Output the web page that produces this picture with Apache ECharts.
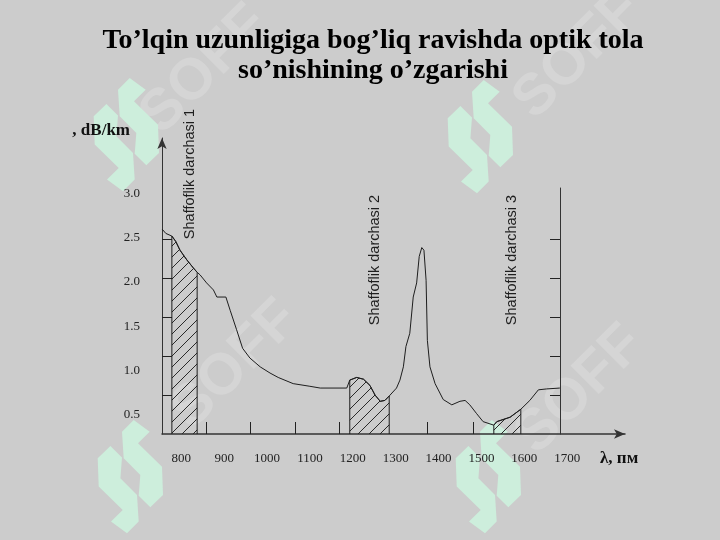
<!DOCTYPE html>
<html><head><meta charset="utf-8">
<script src="https://cdn.jsdelivr.net/npm/echarts@6/dist/echarts.min.js"></script>
<style>html,body{margin:0;padding:0;background:#cccccc}#c{width:720px;height:540px}</style>
</head><body><div id="c"></div>
<script>
// ---- data ----
const wavelength = [755,764,778,787,797,813,828,837,844,859,875,883,904,914,929,943,960,984,1007,1026,1061,1100,1124,1186,1193,1209,1225,1240,1252,1264,1275,1285,1302,1310,1318,1324,1333,1341,1349,1355,1361,1366,1371,1374,1380,1392,1411,1431,1450,1462,1473,1489,1504,1529,1536,1567,1592,1613,1633,1652,1683];
const attenuation = [2.60,2.55,2.52,2.46,2.36,2.25,2.16,2.11,2.08,1.99,1.91,1.83,1.83,1.68,1.46,1.25,1.14,1.04,0.97,0.92,0.85,0.82,0.80,0.80,0.89,0.92,0.90,0.83,0.72,0.65,0.66,0.71,0.80,0.89,1.04,1.27,1.42,1.83,1.99,2.29,2.39,2.36,2.02,1.34,1.04,0.85,0.67,0.61,0.65,0.66,0.61,0.51,0.42,0.38,0.42,0.47,0.56,0.66,0.78,0.79,0.80];
const xTickLabels = [800,900,1000,1100,1200,1300,1400,1500,1600,1700];
const yTickLabels = [0.5,1.0,1.5,2.0,2.5,3.0];
const xTickMarks = [858,960,1065,1168,1373,1480];
const scaleTicks = [0.5,1.0,1.5,2.0,2.5];
const windows = [[778,837],[1193,1285],[1529,1592]];
const windowNames = ['Shaffoflik darchasi 1','Shaffoflik darchasi 2','Shaffoflik darchasi 3'];
const titleText = 'To’lqin uzunligiga bog’liq ravishda optik tola\nso’nishining o’zgarishi';
const yName = ', dB/km';
const xName = 'λ, пм';

// ---- helpers ----
const Y_MIN = 0.28, Y_MAX = 3.63, X_MIN = 755, X_MAX = 1835;
const curve = wavelength.map((w, i) => [w, attenuation[i]]);
function windowData(w) {
  const pts = curve.filter(p => p[0] >= w[0] && p[0] <= w[1]);
  return [[w[0], Y_MIN]].concat(pts, [[w[1], Y_MIN]]);
}
function hatch() {
  const s = 11, c = document.createElement('canvas');
  c.width = c.height = s;
  const g = c.getContext('2d');
  g.strokeStyle = '#2a2a2a'; g.lineWidth = 1;
  g.beginPath();
  g.moveTo(0, s); g.lineTo(s, 0);
  g.moveTo(-s/2, s/2); g.lineTo(s/2, -s/2);
  g.moveTo(s/2, s*1.5); g.lineTo(s*1.5, s/2);
  g.stroke();
  return c;
}
const pattern = { image: hatch(), repeat: 'repeat' };

// watermark
const piece1 = [[36.7,0],[52.7,11.7],[41,23.3],[65,46.7],[66,75],[53.3,87.3],[41.7,75.7],[43.3,55],[26.7,38.3],[25,11.7]];
const piece2 = piece1.map(p => [66.7 - p[0], 113.3 - p[1]]);
function logo(x, y) {
  return { type: 'group', x: x, y: y, z: -10, silent: true, children: [
    { type: 'polygon', z: -10, shape: { points: piece1 }, style: { fill: '#cdeedc' } },
    { type: 'polygon', z: -10, shape: { points: piece2 }, style: { fill: '#cdeedc' } }
  ]};
}
function soff(x, y) {
  return { type: 'text', x: x, y: y, z: -11, silent: true, rotation: Math.PI / 4,
    style: { text: 'SOFF', font: 'bold 58px "Liberation Sans"', fill: '#d5d5d5', align: 'center', verticalAlign: 'middle' } };
}
const FONT_SANS = '"Liberation Sans", Arial, sans-serif';
const FONT_SERIF = '"Liberation Serif", "Times New Roman", serif';

const chart = echarts.init(document.getElementById('c'), null, { renderer: 'canvas' });
const series = [{
  type: 'line', name: 'attenuation', xAxisIndex: 0, yAxisIndex: 0,
  data: curve, symbol: 'none', smooth: false, z: 5,
  lineStyle: { color: '#1e1e1e', width: 1 }
}];
windows.forEach((w, i) => {
  series.push({
    type: 'line', name: windowNames[i], xAxisIndex: 0, yAxisIndex: 0,
    data: windowData(w), symbol: 'none', z: 4,
    lineStyle: { color: '#1e1e1e', width: 1 },
    areaStyle: { color: pattern, opacity: 1, origin: 'start' }
  });
});

const graphics = [
  logo(93, 78), logo(447, 80), logo(97, 420), logo(455, 420),
  soff(205, 70), soff(578, 55), soff(235, 365), soff(580, 390),
  { type: 'text', x: 190, y: 174, rotation: Math.PI / 2,
    style: { text: windowNames[0], font: '14.5px ' + FONT_SANS, fill: '#1e1e1e', align: 'center', verticalAlign: 'middle' } },
  { type: 'text', x: 375, y: 260, rotation: Math.PI / 2,
    style: { text: windowNames[1], font: '14.5px ' + FONT_SANS, fill: '#1e1e1e', align: 'center', verticalAlign: 'middle' } },
  { type: 'text', x: 512, y: 260, rotation: Math.PI / 2,
    style: { text: windowNames[2], font: '14.5px ' + FONT_SANS, fill: '#1e1e1e', align: 'center', verticalAlign: 'middle' } },
  { type: 'text', x: 130, y: 131,
    style: { text: yName, font: 'bold 17px ' + FONT_SERIF, fill: '#111', align: 'right', verticalAlign: 'middle' } },
  { type: 'text', x: 600, y: 459,
    style: { text: xName, font: 'bold 17px ' + FONT_SERIF, fill: '#111', align: 'left', verticalAlign: 'middle' } }
];

chart.setOption({
  animation: false,
  backgroundColor: '#cccccc',
  title: {
    text: titleText, left: 368, top: 21, textAlign: 'center',
    textStyle: { fontFamily: FONT_SERIF, fontWeight: 'bold', fontSize: 28, lineHeight: 30, color: '#000' }
  },
  grid: [
    { left: 162, right: 95, top: 138, bottom: 106 },
    { left: 162, right: 160, top: 188, bottom: 106 }
  ],
  xAxis: [
    { gridIndex: 0, type: 'value', min: X_MIN, max: X_MAX,
      axisLine: { show: true, symbol: ['none', 'arrow'], symbolSize: [7, 11], lineStyle: { color: '#333', width: 1.5 } },
      axisTick: { show: true, inside: true, length: 12, customValues: xTickMarks, lineStyle: { color: '#222' } },
      axisLabel: { customValues: xTickLabels, formatter: v => String(v), margin: 18, fontFamily: FONT_SERIF, fontSize: 13, color: '#222' },
      splitLine: { show: false } },
    { gridIndex: 1, type: 'value', min: X_MIN, max: 1683, show: false }
  ],
  yAxis: [
    { gridIndex: 0, type: 'value', min: Y_MIN, max: Y_MAX,
      axisLine: { show: false }, axisTick: { show: false }, splitLine: { show: false },
      axisLabel: { customValues: yTickLabels, formatter: v => v.toFixed(1), margin: 22, fontFamily: FONT_SERIF, fontSize: 13, color: '#222' } },
    { gridIndex: 0, type: 'value', min: 0, max: 3.8, position: 'left',
      axisLine: { show: true, symbol: ['none', 'arrow'], symbolSize: [7, 11], lineStyle: { color: '#333', width: 1 } },
      axisTick: { show: true, inside: true, length: 10, customValues: scaleTicks, lineStyle: { color: '#222' } },
      axisLabel: { show: false }, splitLine: { show: false } },
    { gridIndex: 1, type: 'value', min: 0, max: 3.154, position: 'right',
      axisLine: { show: true, lineStyle: { color: '#333', width: 1 } },
      axisTick: { show: true, inside: true, length: 10, customValues: scaleTicks, lineStyle: { color: '#222' } },
      axisLabel: { show: false }, splitLine: { show: false } }
  ],
  graphic: graphics,
  series: series
});
</script>
</body></html>
